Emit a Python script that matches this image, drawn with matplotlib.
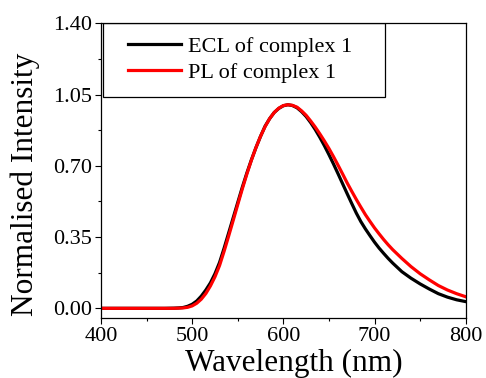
import matplotlib
matplotlib.use("Agg")
import matplotlib.pyplot as plt
from matplotlib.patches import Rectangle
from matplotlib.ticker import MultipleLocator, FormatStrFormatter

plt.rcParams['font.family'] = ['Liberation Serif', 'DejaVu Serif']

wavelength = [400, 410, 420, 430, 440, 450, 460, 470,
              480, 485, 490, 495, 500, 505, 510, 515, 520, 525, 530, 535,
              540, 545, 550, 555, 560, 565, 570, 575, 580, 585, 590, 595,
              600, 605, 610, 615, 620, 625, 630, 635, 640, 645, 650, 655,
              660, 665, 670, 675, 680, 685, 690, 695, 700, 705, 710, 715,
              720, 730, 740, 750, 760, 770, 780, 790, 800]

ecl = [0, 0, 0, 0, 0, 0, 0, 0,
       0.001, 0.002, 0.004, 0.01, 0.02, 0.036, 0.06, 0.09, 0.125, 0.17, 0.225, 0.295,
       0.37, 0.445, 0.52, 0.595, 0.665, 0.73, 0.79, 0.845, 0.895, 0.932, 0.962, 0.982,
       0.995, 1.0, 0.996, 0.985, 0.966, 0.942, 0.912, 0.878, 0.84, 0.799, 0.755, 0.709,
       0.661, 0.612, 0.563, 0.515, 0.468, 0.426, 0.39, 0.357, 0.325, 0.296, 0.27, 0.245,
       0.222, 0.18, 0.148, 0.12, 0.095, 0.072, 0.055, 0.042, 0.033]

pl = [0, 0, 0, 0, 0, 0, 0, 0,
      0, 0.001, 0.002, 0.005, 0.012, 0.025, 0.045, 0.073, 0.11, 0.155, 0.21, 0.28,
      0.355, 0.432, 0.51, 0.587, 0.66, 0.728, 0.79, 0.845, 0.893, 0.932, 0.962, 0.983,
      0.996, 1.0, 0.997, 0.988, 0.97, 0.948, 0.92, 0.89, 0.857, 0.822, 0.785, 0.745,
      0.703, 0.66, 0.616, 0.575, 0.535, 0.497, 0.46, 0.427, 0.395, 0.366, 0.338, 0.312,
      0.288, 0.245, 0.205, 0.17, 0.14, 0.112, 0.09, 0.072, 0.057]

labels = ["ECL of complex 1", "PL of complex 1"]
colors = ["#000000", "#ff0000"]

fig = plt.figure(figsize=(4.86, 3.78), dpi=100)
ax = fig.add_axes([101/486, 1-317.7/378, 364.7/486, 294.4/378])

ax.plot(wavelength, ecl, color=colors[0], lw=2.3, label=labels[0])
ax.plot(wavelength, pl, color=colors[1], lw=2.3, label=labels[1])

ax.set_xlim(400, 800)
ax.set_ylim(-0.046, 1.40)
ax.xaxis.set_major_locator(MultipleLocator(100))
ax.xaxis.set_minor_locator(MultipleLocator(50))
ax.yaxis.set_major_locator(MultipleLocator(0.35))
ax.yaxis.set_minor_locator(MultipleLocator(0.175))
ax.yaxis.set_major_formatter(FormatStrFormatter('%.2f'))

ax.tick_params(which='major', direction='out', length=4.2, width=0.8,
               labelsize=16, pad=2.5, top=False, right=False)
ax.tick_params(which='minor', direction='out', length=2.5, width=0.8,
               top=False, right=False)
for s in ax.spines.values():
    s.set_linewidth(0.9)

# legend
ax.add_patch(Rectangle((0.0047, 0.7507), 0.7749, 0.2493, transform=ax.transAxes,
                       fill=False, edgecolor='black', lw=0.9, zorder=5))
leg = ax.legend(loc='upper left', bbox_to_anchor=((128-101)/364.7, (317.7-36)/294.4),
                frameon=False, fontsize=16, borderpad=0, borderaxespad=0,
                handlelength=2.4, handletextpad=0.3, labelspacing=0.25)
for line in leg.get_lines():
    line.set_linewidth(2.3)

fig.text(294/486, (378-370.5)/378, "Wavelength (nm)", fontsize=22.5,
         ha='center', va='baseline')
fig.text(33/486, (378-184)/378, "Normalised Intensity", fontsize=22.5,
         ha='center', va='baseline', rotation=90, rotation_mode='anchor')

fig.savefig("out.png", dpi=100)
